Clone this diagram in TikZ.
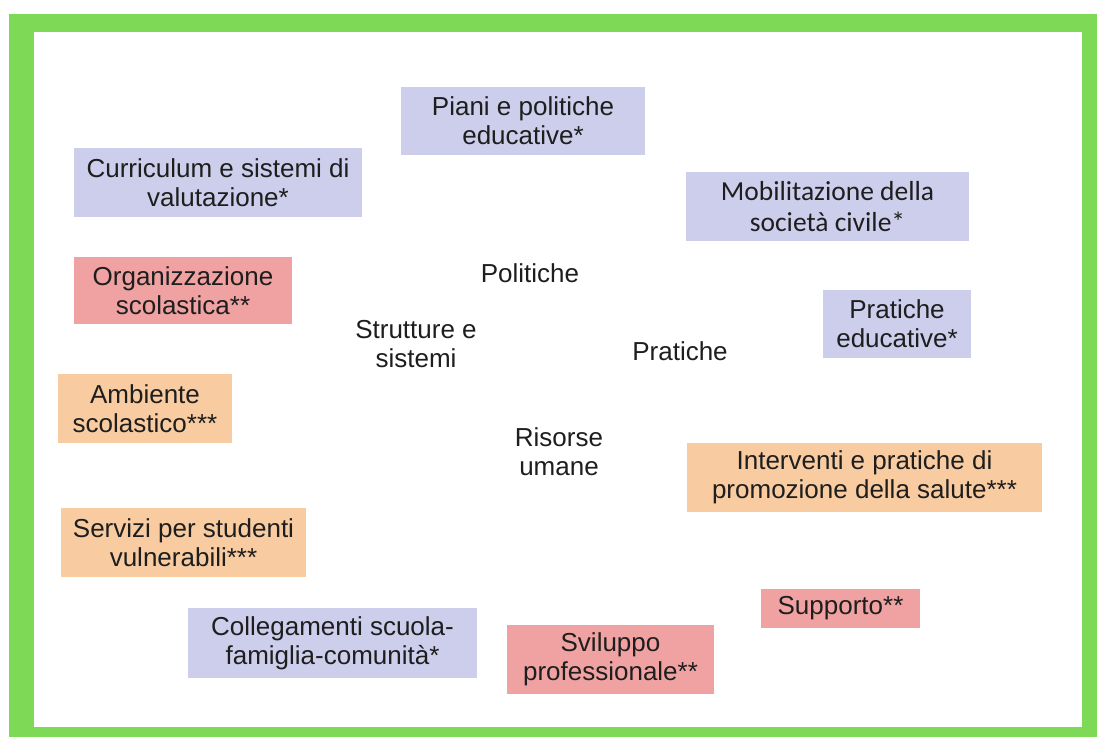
\documentclass[tikz,border=0pt]{standalone}
\usepackage{fontspec}
\setmainfont{Liberation Sans}
\newfontfamily\arialfont{Liberation Sans}
\newfontfamily\calfont{Carlito}
\definecolor{framegreen}{HTML}{7ED957}
\definecolor{lav}{HTML}{CDCDEC}
\definecolor{rose}{HTML}{F0A2A2}
\definecolor{peach}{HTML}{F8CBA0}
\definecolor{ink}{HTML}{1E1E1E}
\begin{document}
\begin{tikzpicture}[x=1pt,y=-1pt,
  txt/.style={text=ink,align=center,font=\arialfont\fontsize{26}{29}\selectfont,inner sep=0pt},
  card/.style 2 args={txt,minimum width=#1,minimum height=#2},
  lavbox/.style={fill=lav},
  rosebox/.style={fill=rose},
  peachbox/.style={fill=peach}]
\useasboundingbox (0,0) rectangle (1097,737);
% frame
\fill[framegreen] (9,14) rectangle (1097,737);
\fill[white] (34,32) rectangle (1082,727);

% coloured cards, placed by their centres
\node[card={244}{68},lavbox] (piani) at (523,121) {Piani e politiche\\educative*};
\node[card={288}{69},lavbox] (curr) at (218,182.5) {Curriculum e sistemi di\\valutazione*};
\node[card={283}{69},lavbox,font=\calfont\fontsize{27.5}{31}\selectfont] (mob) at (827.5,206.5) {Mobilitazione della\\società civile*};
\node[card={218}{67},rosebox] (org) at (183,290.5) {Organizzazione\\scolastica**};
\node[card={174}{69},peachbox] (amb) at (145,408.5) {Ambiente\\scolastico***};
\node[card={148}{68},lavbox] (prat) at (897,324) {Pratiche\\educative*};
\node[card={355}{69},peachbox] (int) at (864.5,477.5) {Interventi e pratiche di\\promozione della salute***};
\node[card={245}{69},peachbox] (serv) at (183.5,542.5) {Servizi per studenti\\vulnerabili***};
\node[card={289}{70},lavbox] (coll) at (332.5,643) {Collegamenti scuola-\\famiglia-comunità*};
\node[card={207}{69},rosebox] (svil) at (610.5,659.5) {Sviluppo\\professionale**};
\node[card={159}{39},rosebox] (supp) at (840.5,608.5) {Supporto**};

% central labels
\node[txt] (pol) at (530,273) {Politiche};
\node[txt] (strut) at (416,344) {Strutture e\\sistemi};
\node[txt] (pra) at (680,351) {Pratiche};
\node[txt] (ris) at (559,452) {Risorse\\umane};
\end{tikzpicture}
\end{document}
